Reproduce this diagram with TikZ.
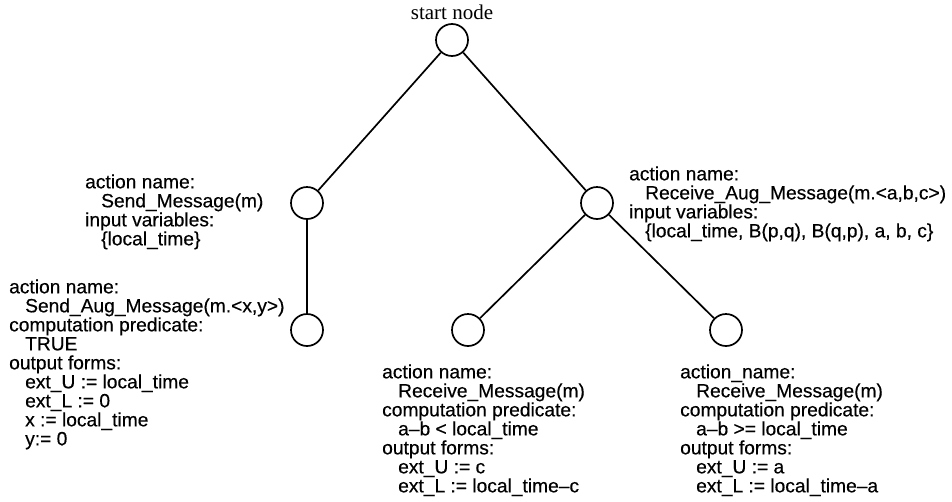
\documentclass[tikz,border=0pt]{standalone}
\usepackage{fontspec}
\setmainfont{Liberation Serif}
\setsansfont[FakeBold=0.4]{Liberation Sans}

\newcommand{\ind}{\hspace*{16pt}}

\begin{document}
\begin{tikzpicture}[
  x=1pt, y=1pt,
  vertex/.style={draw, circle, line width=1.7pt, minimum size=32pt, inner sep=0pt},
  info/.style={anchor=north west, inner sep=0pt, align=left,
    font=\sffamily\fontsize{19.2}{19}\selectfont},
  level 1/.style={level distance=163pt, sibling distance=290pt},
  level 2/.style={level distance=127pt, sibling distance=258pt},
  edge from parent/.style={draw, line width=1.7pt}
]
\useasboundingbox (0,0) rectangle (952,-501);
\node[vertex] (S) at (452,-40) {}
  child { node[vertex] (Sm) {}
    child { node[vertex] (Sa) {} }
  }
  child { node[vertex] (Ra) {}
    child { node[vertex] (Rl) {} }
    child { node[vertex] (Rg) {} }
  };
\node[anchor=base, font=\fontsize{21}{23}\selectfont] (TS) at (452,-19) {start node};
\node[info] (TSm) at (85,-174.2)
  {action name:\\ \ind Send\_Message(m)\\ input variables:\\ \ind \{local\_time\}};
\node[info] (TSa) at (9,-279.2)
  {action name:\\ \ind Send\_Aug\_Message(m.<x,y>)\\ computation predicate:\\ \ind TRUE\\
   output forms:\\ \ind ext\_U := local\_time\\ \ind ext\_L := 0\\ \ind x := local\_time\\ \ind y:= 0};
\node[info] (TRa) at (629,-166.2)
  {action name:\\ \ind Receive\_Aug\_Message(m.<a,b,c>)\\ input variables:\\
   \ind \{local\_time, B(p,q), B(q,p), a, b, c\}};
\node[info] (TRl) at (382,-364.2)
  {action name:\\ \ind Receive\_Message(m)\\ computation predicate:\\ \ind a--b < local\_time\\
   output forms:\\ \ind ext\_U := c\\ \ind ext\_L := local\_time--c};
\node[info] (TRg) at (680,-364.2)
  {action\_name:\\ \ind Receive\_Message(m)\\ computation predicate:\\ \ind a--b >= local\_time\\
   output forms:\\ \ind ext\_U := a\\ \ind ext\_L := local\_time--a};
\end{tikzpicture}
\end{document}
